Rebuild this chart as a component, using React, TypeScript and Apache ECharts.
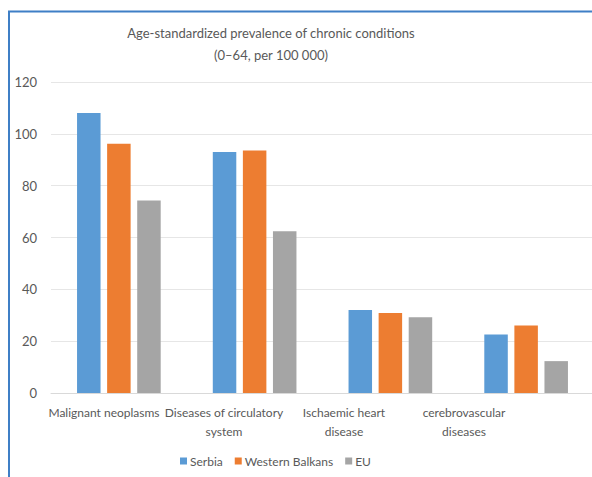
import React, { useEffect, useRef } from "react";
import * as echarts from "echarts";

const categories = [
  "Malignant neoplasms",
  "Diseases of circulatory\nsystem",
  "Ischaemic heart\ndisease",
  "cerebrovascular\ndiseases",
];
const serbia = [108, 93, 32, 22.6];
const westernBalkans = [96.2, 93.6, 30.9, 26];
const eu = [74.3, 62.4, 29.2, 12.3];
const seriesNames = ["Serbia", "Western Balkans", "EU"];
const titleText = "Age-standardized prevalence of chronic conditions\n(0\u201364, per 100 000)";

const FONT = "Lato, 'Open Sans', sans-serif";

export default function App() {
  const ref = useRef<HTMLDivElement>(null);
  useEffect(() => {
    if (!ref.current) return;
    const chart = echarts.init(ref.current, undefined, { renderer: "svg" });
    const colors = ["#5b9bd5", "#ed7d31", "#a5a5a5"];
    const values = [serbia, westernBalkans, eu];
    chart.setOption({
      animation: false,
      backgroundColor: "#ffffff",
      color: colors,
      textStyle: { fontFamily: FONT },
      title: {
        text: titleText,
        left: 271,
        top: 22,
        padding: 0,
        textAlign: "center",
        textStyle: {
          fontFamily: FONT,
          fontSize: 13,
          lineHeight: 22,
          fontWeight: "normal",
          color: "#595959",
        },
      },
      legend: {
        left: 180,
        top: 455,
        padding: 0,
        itemWidth: 7,
        itemHeight: 7,
        itemGap: 12,
        icon: "rect",
        textStyle: { fontFamily: FONT, fontSize: 12, color: "#595959", padding: [0, 0, 0, -2] },
        data: seriesNames,
      },
      grid: [
        { left: 51, right: 6, top: 82, bottom: 84, containLabel: false },
        { left: 44, right: 76, top: 82, bottom: 84, containLabel: false },
      ],
      xAxis: [
        {
          type: "category",
          gridIndex: 0,
          data: categories,
          axisLine: { lineStyle: { color: "#d9d9d9" } },
          axisTick: { show: false },
          axisLabel: { show: false },
        },
        {
          type: "category",
          gridIndex: 1,
          data: categories,
          axisLine: { show: false },
          axisTick: { show: false },
          splitLine: { show: false },
          axisLabel: {
            interval: 0,
            margin: 10,
            fontFamily: FONT,
            fontSize: 12,
            lineHeight: 19,
            color: "#595959",
          },
        },
      ],
      yAxis: [
        {
          type: "value",
          gridIndex: 0,
          min: 0,
          max: 120,
          interval: 20,
          axisLine: { show: false },
          axisTick: { show: false },
          axisLabel: { margin: 14, fontFamily: FONT, fontSize: 13, color: "#595959" },
          splitLine: { lineStyle: { color: "#e6e6e6" } },
        },
        {
          type: "value",
          gridIndex: 1,
          min: 0,
          max: 120,
          show: false,
        },
      ],
      series: seriesNames.map((name, i) => ({
        name,
        type: "bar",
        xAxisIndex: 0,
        yAxisIndex: 0,
        data: values[i],
        barWidth: 23.5,
        barGap: "28%",
        itemStyle: { color: colors[i] },
      })),
      graphic: [
        {
          type: "rect",
          shape: { x: 9, y: 11.5, width: 800, height: 800 },
          style: { fill: "none", stroke: "#3f7fc6", lineWidth: 2 },
          silent: true,
          z: 100,
        },
      ],
    });
    return () => chart.dispose();
  }, []);
  return (
    <div
      style={{
        position: "absolute",
        left: 0,
        top: 0,
        width: 592,
        height: 477,
        overflow: "hidden",
        background: "#fff",
      }}
    >
      <div ref={ref} style={{ width: 600, height: 477 }} />
    </div>
  );
}
